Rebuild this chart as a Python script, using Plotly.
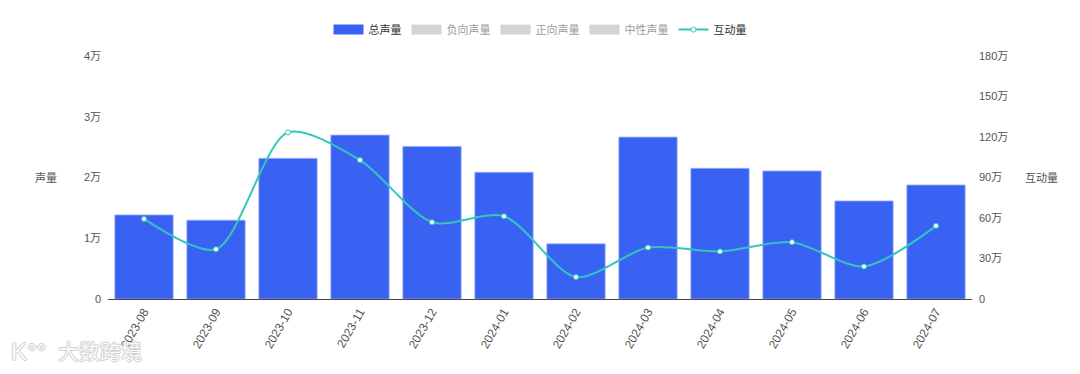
import plotly.graph_objects as go

months = ["2023-08", "2023-09", "2023-10", "2023-11", "2023-12", "2024-01",
          "2024-02", "2024-03", "2024-04", "2024-05", "2024-06", "2024-07"]
total_volume = [13840, 12970, 23150, 26980, 25120, 20850, 9080, 26650, 21510, 21070, 16140, 18770]
interaction = [593000, 369000, 1234000, 1029000, 569000, 613000, 163000, 381000, 352000, 421000, 241000, 542000]
hidden_series = ["负向声量", "正向声量", "中性声量"]

left_tickvals = [0, 10000, 20000, 30000, 40000]
left_ticktext = ["0", "1万", "2万", "3万", "4万"]
right_tickvals = [0, 300000, 600000, 900000, 1200000, 1500000, 1800000]
right_ticktext = ["0", "30万", "60万", "90万", "120万", "150万", "180万"]

FONT = "Helvetica, Arial, 'Noto Sans CJK SC', sans-serif"
BLUE = "#3A62F2"
TEAL = "#33C6BE"
OC = "#cfcfcf"
OUTLINE = (f"1px 0 0 {OC}, -1px 0 0 {OC}, 0 1px 0 {OC}, 0 -1px 0 {OC}")

fig = go.Figure()
fig.add_trace(go.Bar(x=months, y=total_volume, name="总声量", marker_color=BLUE,
                     marker_line=dict(color="rgba(150,175,255,0.8)", width=1),
                     showlegend=False, legendgroup="total"))
# legend swatch for the bar series
fig.add_trace(go.Scatter(x=[None], y=[None], name="总声量", mode="lines",
                         line=dict(color=BLUE, width=12), legendgroup="total"))
for nm in hidden_series:
    fig.add_trace(go.Scatter(x=[None], y=[None], name=nm, mode="lines",
                             line=dict(color="#aaaaaa", width=12), visible="legendonly"))
fig.add_trace(go.Scatter(x=months, y=interaction, name="互动量", yaxis="y2",
                         mode="lines+markers", line=dict(color=TEAL, width=2, shape="spline", smoothing=0.8),
                         marker=dict(symbol="circle", size=5, color="white",
                                     line=dict(color=TEAL, width=1))))

fig.update_layout(
    width=1080, height=374,
    margin=dict(l=100, r=116, t=48, b=83, autoexpand=False),
    paper_bgcolor="white", plot_bgcolor="white",
    font=dict(family=FONT, size=11, color="#555"),
    bargap=0.19,
    showlegend=True,
    legend=dict(orientation="h", x=0.5, xanchor="center", y=0.981, yref="container",
                yanchor="top", font=dict(size=11, color="#333"), itemwidth=30,
                traceorder="normal"),
    xaxis=dict(type="category", range=[-0.5, 11.5], showline=True, linecolor="#444", linewidth=1,
               showgrid=False, ticks="", tickangle=-60, automargin=False,
               tickfont=dict(size=12, color="#555")),
    yaxis=dict(range=[0, 40000], tickvals=left_tickvals, ticktext=left_ticktext,
               showgrid=False, zeroline=False, showline=False, ticks="", automargin=False,
               ticklabelstandoff=6, tickfont=dict(size=11, color="#555")),
    yaxis2=dict(range=[0, 1800000], tickvals=right_tickvals, ticktext=right_ticktext,
                overlaying="y", side="right", showgrid=False, zeroline=False,
                showline=False, ticks="", ticklabelstandoff=6, automargin=False,
                tickfont=dict(size=11, color="#555")),
    annotations=[
        dict(text="声量", x=0, y=0.5, xref="paper", yref="paper", showarrow=False,
             font=dict(size=11, color="#555"), xanchor="center", yanchor="middle", xshift=-62),
        dict(text="互动量", xref="paper", yref="paper", x=1.0, y=0.5, showarrow=False,
             font=dict(size=11, color="#555"), xanchor="center", yanchor="middle", xshift=69),
        dict(text="大数跨境", xref="paper", yref="paper", x=0, y=0, showarrow=False,
             font=dict(size=21, color="#fafafa", shadow=OUTLINE), xanchor="left",
             yanchor="middle", xshift=-52, yshift=-52),
        dict(text="K°°", xref="paper", yref="paper", x=0, y=0, showarrow=False,
             font=dict(size=24, color="#fafafa", shadow=OUTLINE), xanchor="left",
             yanchor="middle", xshift=-99, yshift=-52),
    ],
)

fig.write_html("out.html")
